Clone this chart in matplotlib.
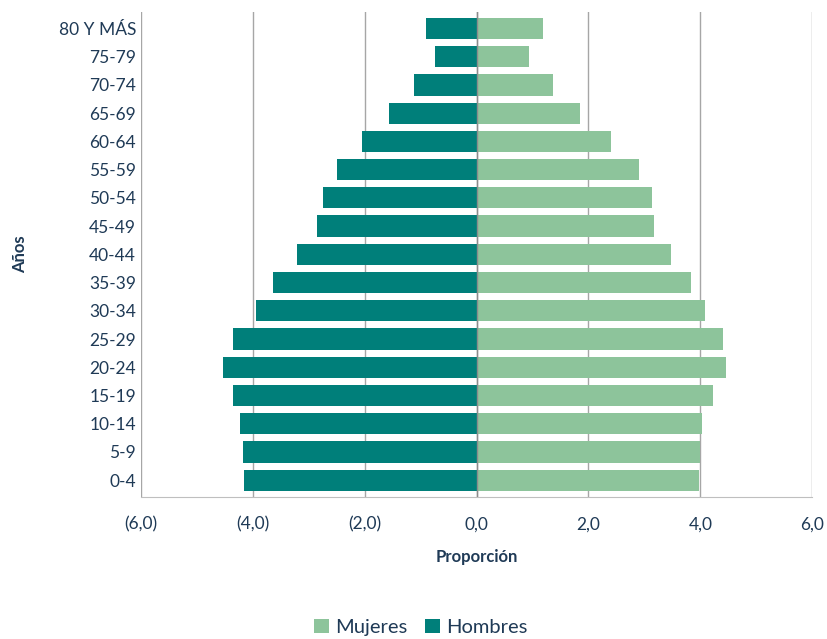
import numpy as np
import matplotlib.pyplot as plt
from matplotlib.ticker import FuncFormatter

# grupos de edad (de abajo hacia arriba)
edades = ['0-4', '5-9', '10-14', '15-19', '20-24', '25-29', '30-34', '35-39',
          '40-44', '45-49', '50-54', '55-59', '60-64', '65-69', '70-74',
          '75-79', '80 Y MÁS']
hombres = [4.16, 4.18, 4.22, 4.36, 4.53, 4.36, 3.94, 3.64,
           3.20, 2.85, 2.75, 2.50, 2.05, 1.56, 1.11, 0.74, 0.90]
mujeres = [3.98, 3.99, 4.03, 4.22, 4.45, 4.40, 4.08, 3.84,
           3.48, 3.18, 3.13, 2.91, 2.41, 1.85, 1.37, 0.94, 1.19]
xticks = [-6, -4, -2, 0, 2, 4, 6]

plt.rcParams['font.family'] = ['Lato', 'DejaVu Sans']
txt = '#1F3A56'

fig = plt.figure(figsize=(8.28, 6.39), dpi=100)
ax = fig.add_axes([0.170, 0.222, 0.811, 0.760])

y = np.arange(len(edades))
ax.barh(y, mujeres, height=0.75, color='#8DC49B', label='Mujeres', zorder=3)
ax.barh(y, -np.array(hombres), height=0.75, color='#007F7A', label='Hombres', zorder=3)

ax.set_xlim(-6, 6)
ax.set_ylim(-0.6, len(edades) - 0.4)
ax.set_xticks(xticks)


def fmt(v, pos):
    s = '{:.1f}'.format(abs(v)).replace('.', ',')
    return '(' + s + ')' if v < 0 else s


ax.xaxis.set_major_formatter(FuncFormatter(fmt))
ax.set_yticks(y)
ax.set_yticklabels(edades)
ax.grid(axis='x', color='#A6A6A6', linewidth=1, zorder=0)
ax.axvline(0, color='#8C8C8C', linewidth=1, zorder=4)

for s in ['top', 'right', 'left']:
    ax.spines[s].set_visible(False)
ax.spines['bottom'].set_color('#BFBFBF')
ax.tick_params(length=0, colors=txt, labelsize=12.5)
ax.tick_params(axis='x', pad=14)

ax.set_xlabel('Proporción', fontsize=12, fontweight='bold', color=txt, labelpad=12)
ax.set_ylabel('Años', fontsize=12, fontweight='bold', color=txt, labelpad=22)

ax.legend(loc='center', bbox_to_anchor=(0.417, -0.268), ncol=2, frameon=False,
          fontsize=14.5, labelcolor=txt, handlelength=0.75, handleheight=0.75,
          columnspacing=0.9, handletextpad=0.3)

fig.savefig('out.png', dpi=100)
